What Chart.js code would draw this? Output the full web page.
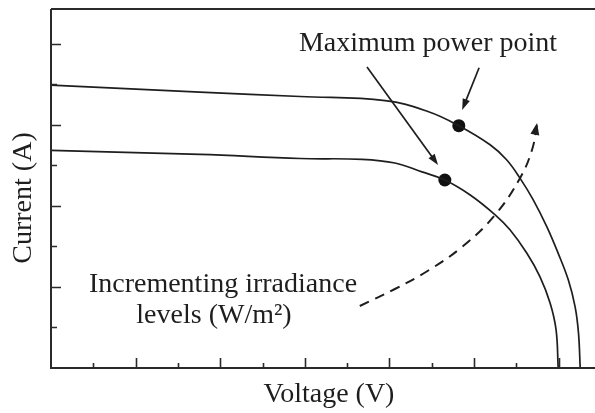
<!DOCTYPE html>
<html><head><meta charset="utf-8">
<script src="https://cdn.jsdelivr.net/npm/chart.js@4"></script>
<style>html,body{margin:0;padding:0;background:#fff}</style>
</head><body>
<canvas id="c" width="595" height="413"></canvas>
<script>
// I-V curves (voltage and current in tick units)
const upperV = [0, 3.52, 5.89, 7.90, 8.91, 9.64, 10.38, 10.77, 11.09, 11.40, 11.72, 11.99, 12.23, 12.39, 12.47, 12.51];
const upperI = [6.98, 6.81, 6.70, 6.60, 6.33, 5.98, 5.51, 5.14, 4.68, 4.15, 3.49, 2.83, 2.17, 1.51, 0.86, 0];
const lowerV = [0, 3.52, 5.89, 7.35, 8.13, 8.77, 9.31, 9.91, 10.50, 10.85, 11.25, 11.56, 11.80, 11.94, 11.99];
const lowerI = [5.37, 5.27, 5.17, 5.15, 5.06, 4.84, 4.64, 4.27, 3.78, 3.41, 2.83, 2.25, 1.60, 0.94, 0];
// maximum power points
const mppV = [9.64, 9.31];
const mppI = [5.98, 4.64];
// dashed "incrementing irradiance" arrow path
const dashV = [7.30, 8.13, 8.91, 9.72, 10.50, 11.09, 11.37, 11.49];
const dashI = [1.53, 1.95, 2.40, 2.99, 3.78, 4.69, 5.38, 6.00];
// tick positions
const xTicks = [1,2,3,4,5,6,7,8,9,10,11,12];
const yTicks = [1,2,3,4,5,6,7,8];
const xMax = 12.86, yMax = 8.86;

const zip = (a, b) => a.map((v, i) => ({x: v, y: b[i]}));
const INK = '#1e1e1e';
const FONT = '28px "Liberation Serif", "DejaVu Serif", serif';

// annotation arrows: [fromV, fromI, toV, toI]
const pointerArrows = [[7.47, 7.43, 9.15, 5.01], [10.12, 7.41, 9.72, 6.37]];

function head(ctx, x0, y0, x1, y1, len, hw) {
  const a = Math.atan2(y1 - y0, x1 - x0);
  ctx.beginPath();
  ctx.moveTo(x1, y1);
  ctx.lineTo(x1 - len * Math.cos(a) + hw * Math.sin(a), y1 - len * Math.sin(a) - hw * Math.cos(a));
  ctx.lineTo(x1 - len * Math.cos(a) - hw * Math.sin(a), y1 - len * Math.sin(a) + hw * Math.cos(a));
  ctx.closePath();
  ctx.fill();
}

const decor = {
  id: 'decor',
  afterDatasetsDraw(chart) {
    const ctx = chart.ctx, xs = chart.scales.x, ys = chart.scales.y;
    const L = xs.left, R = xs.right, T = ys.top, B = ys.bottom;
    ctx.save();
    ctx.strokeStyle = '#2a2a2a';
    ctx.fillStyle = INK;
    ctx.lineWidth = 2;
    ctx.beginPath();
    ctx.moveTo(L, T); ctx.lineTo(R, T);
    ctx.moveTo(L, T); ctx.lineTo(L, B); ctx.lineTo(R, B);
    ctx.stroke();
    ctx.lineWidth = 1.6;
    ctx.beginPath();
    xTicks.forEach(v => {
      const px = Math.round(xs.getPixelForValue(v)) + 0.5;
      const len = v % 2 === 0 ? 10 : 5;
      ctx.moveTo(px, B); ctx.lineTo(px, B - len);
    });
    yTicks.forEach(v => {
      const py = Math.round(ys.getPixelForValue(v)) + 0.5;
      const len = v % 2 === 0 ? 10 : 6;
      ctx.moveTo(L, py); ctx.lineTo(L + len, py);
    });
    ctx.stroke();

    // pointer arrows
    ctx.lineWidth = 1.7;
    ctx.strokeStyle = INK;
    pointerArrows.forEach(([a, b, c, d]) => {
      const x0 = xs.getPixelForValue(a), y0 = ys.getPixelForValue(b);
      const x1 = xs.getPixelForValue(c), y1 = ys.getPixelForValue(d);
      const ang = Math.atan2(y1 - y0, x1 - x0);
      ctx.beginPath();
      ctx.moveTo(x0, y0);
      ctx.lineTo(x1 - 6 * Math.cos(ang), y1 - 6 * Math.sin(ang));
      ctx.stroke();
      head(ctx, x0, y0, x1, y1, 11, 3.8);
    });
    // dashed arrow head
    const n = dashV.length;
    head(ctx, xs.getPixelForValue(dashV[n - 2]), ys.getPixelForValue(dashI[n - 2]),
         xs.getPixelForValue(dashV[n - 1]), ys.getPixelForValue(dashI[n - 1]) - 2, 12, 4.5);

    // texts
    ctx.font = FONT;
    ctx.fillStyle = INK;
    ctx.textBaseline = 'alphabetic';
    ctx.textAlign = 'center';
    ctx.fillText('Maximum power point', 428, 51);
    ctx.fillText('Incrementing irradiance', 223, 292);
    ctx.fillText('levels (W/m\u00B2)', 214, 323);
    ctx.fillText('Voltage (V)', 329, 402);
    ctx.translate(31, 198);
    ctx.rotate(-Math.PI / 2);
    ctx.fillText('Current (A)', 0, 0);
    ctx.restore();
  }
};

new Chart(document.getElementById('c'), {
  type: 'scatter',
  data: {
    datasets: [
      { type: 'line', data: zip(upperV, upperI), borderColor: INK, borderWidth: 1.7, pointRadius: 0, tension: 0.4, fill: false },
      { type: 'line', data: zip(lowerV, lowerI), borderColor: INK, borderWidth: 1.7, pointRadius: 0, tension: 0.4, fill: false },
      { type: 'line', data: zip(dashV, dashI), borderColor: INK, borderWidth: 2, borderDash: [10, 7], pointRadius: 0, tension: 0.4, fill: false },
      { type: 'scatter', data: zip(mppV, mppI), pointRadius: 6.5, backgroundColor: '#111', borderColor: '#111', borderWidth: 0 }
    ]
  },
  options: {
    responsive: false,
    animation: false,
    devicePixelRatio: 1,
    layout: { autoPadding: false, padding: { top: 9, right: 0, left: 0, bottom: 0 } },
    plugins: { legend: { display: false }, tooltip: { enabled: false } },
    scales: {
      x: { type: 'linear', min: 0, max: xMax, grid: { display: false }, border: { display: false }, ticks: { display: false },
           afterFit: s => { s.height = 45; } },
      y: { type: 'linear', min: 0, max: yMax, grid: { display: false }, border: { display: false }, ticks: { display: false },
           afterFit: s => { s.width = 51; } }
    }
  },
  plugins: [decor]
});
</script>
</body></html>
